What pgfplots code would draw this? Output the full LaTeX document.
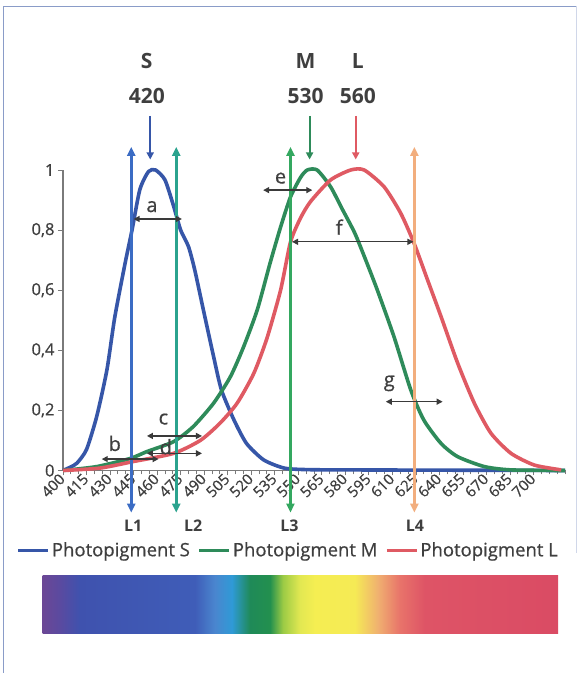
\documentclass[border=0pt]{standalone}
\usepackage{pgfplots}
\usepackage{pgfplotstable}
\usepackage{fontspec}
\setmainfont{Open Sans}
\newfontfamily\med{Open Sans}[FakeBold=0.6]
\usetikzlibrary{arrows.meta}
\pgfplotsset{compat=1.18}
\definecolor{txt}{HTML}{3F3F3F}
\definecolor{axgray}{HTML}{7A7A7A}
\definecolor{Sblue}{HTML}{3656A8}
\definecolor{Mgreen}{HTML}{2E8B5A}
\definecolor{Lred}{HTML}{DF5A63}
\definecolor{Lone}{HTML}{3B6CC4}
\definecolor{Ltwo}{HTML}{2BA38E}
\definecolor{Lthree}{HTML}{34A860}
\definecolor{Lfour}{HTML}{F2AE7E}
\definecolor{harrow}{HTML}{3A3A3A}
\definecolor{framec}{HTML}{8A9CC8}

\pgfplotstableread{
x y
400 0
405 0.012
409 0.025
415 0.07
421.5 0.18
428 0.335
433 0.51
439.6 0.69
444 0.80
449 0.935
454.5 0.995
459 1.0
465 0.967
470.5 0.88
475 0.80
480 0.745
484 0.667
489.5 0.534
496 0.379
501 0.268
509 0.168
517 0.09
528 0.035
541 0.008
555 0.003
580 0.002
720 0
}\Sdata
\pgfplotstableread{
x y
400 0
421.5 0.013
442.8 0.04
453.5 0.063
470.5 0.096
483 0.146
496 0.224
506.7 0.312
515 0.41
523.8 0.534
532 0.69
538.7 0.81
545 0.91
551.4 0.975
555.7 1.0
562 1.0
570.6 0.944
578 0.87
586 0.79
593 0.70
600.4 0.60
611 0.445
621.7 0.268
630 0.168
641 0.09
651.6 0.046
668.6 0.013
685.6 0.002
720 0
}\Mdata
\pgfplotstableread{
x y
400 0
423.6 0.008
445 0.03
470.5 0.057
487.5 0.10
500 0.157
511 0.224
521.6 0.323
530 0.44
538.7 0.60
545 0.76
551.4 0.84
557.8 0.895
570.6 0.967
583.4 1.0
592 1.0
604.7 0.944
615.3 0.856
623.8 0.756
632.4 0.634
641 0.512
651.6 0.357
662.2 0.224
672.8 0.124
685.6 0.057
700.5 0.018
717.6 0.002
}\Ldata

\begin{document}
\begin{tikzpicture}
\path[use as bounding box,fill=white] (0,0) rectangle (579pt,673pt);
% frame
\draw[framec,line width=0.8pt] (3pt,0pt) -- (3pt,667pt) -- (576pt,667pt);
\draw[framec!40,line width=0.6pt] (576pt,667pt) -- (576pt,120pt);

\begin{axis}[
  at={(63pt,202.5pt)},anchor=south west,
  scale only axis,width=502pt,height=300.5pt,
  xmin=400,xmax=720,ymin=0,ymax=1,
  axis x line=bottom,axis y line=left,
  axis line style={-,draw=axgray,line width=1.1pt},
  xtick={400,415,...,700},
  minor xtick={400,405,...,720},
  ytick={0,0.2,0.4,0.6,0.8,1},
  tick align=outside,
  major tick length=5pt,minor tick length=4pt,
  every tick/.style={draw=axgray,line width=0.9pt},
  /pgf/number format/use comma,
  /pgf/number format/assume math mode=true,
  xticklabel style={rotate=45,anchor=east,font=\med\fontsize{15}{16}\selectfont,text=txt,inner sep=1pt},
  yticklabel style={font=\med\fontsize{16.5}{18}\selectfont,text=txt},
  clip=false,
  legend style={at={(axis description cs:0.449,-0.2646)},anchor=center,
    draw=none,fill=none,legend columns=3,
    font=\med\fontsize{18.5}{22}\selectfont,text=txt,
    /tikz/every even column/.append style={column sep=6pt}},
  legend image code/.code={\draw[#1,line width=3pt] (0pt,0pt) -- (30pt,0pt);},
]
\addplot[Sblue,line width=3.6pt,smooth,tension=0.4,line join=round] table[x=x,y=y] {\Sdata};
\addlegendentry{Photopigment S}
\addplot[Mgreen,line width=3.6pt,smooth,tension=0.4,line join=round] table[x=x,y=y] {\Mdata};
\addlegendentry{Photopigment M}
\addplot[Lred,line width=3.6pt,smooth,tension=0.4,line join=round] table[x=x,y=y] {\Ldata};
\addlegendentry{Photopigment L}

% vertical double arrows L1..L4
\draw[Lone,line width=2.6pt,{Triangle[length=9pt,width=8pt]}-{Triangle[length=9pt,width=8pt]}] (axis cs:443.5,-0.14) -- (axis cs:443.5,1.077);
\draw[Ltwo,line width=2.6pt,{Triangle[length=9pt,width=8pt]}-{Triangle[length=9pt,width=8pt]}] (axis cs:472.2,-0.14) -- (axis cs:472.2,1.077);
\draw[Lthree,line width=2.6pt,{Triangle[length=9pt,width=8pt]}-{Triangle[length=9pt,width=8pt]}] (axis cs:545,-0.14) -- (axis cs:545,1.077);
\draw[Lfour,line width=2.6pt,{Triangle[length=9pt,width=8pt]}-{Triangle[length=9pt,width=8pt]}] (axis cs:624,-0.14) -- (axis cs:624,1.077);

% peak arrows
\draw[Sblue,line width=1.8pt,-{Triangle[length=7pt,width=7pt]}] (axis cs:455.6,1.18) -- (axis cs:455.6,1.035);
\draw[Mgreen,line width=1.8pt,-{Triangle[length=7pt,width=7pt]}] (axis cs:557.2,1.18) -- (axis cs:557.2,1.035);
\draw[Lred,line width=1.8pt,-{Triangle[length=7pt,width=7pt]}] (axis cs:586.6,1.18) -- (axis cs:586.6,1.035);

% peak labels
\begin{scope}[every node/.style={text=txt,font=\fontsize{21}{24}\selectfont\bfseries}]
\node at (axis cs:453.4,1.363) {S};
\node at (axis cs:453.4,1.246) {420};
\node at (axis cs:554.6,1.363) {M};
\node at (axis cs:554.6,1.246) {530};
\node at (axis cs:587.9,1.363) {L};
\node at (axis cs:587.9,1.246) {560};
\end{scope}

% L labels
\begin{scope}[every node/.style={text=txt,font=\fontsize{16}{18}\selectfont\bfseries}]
\node at (axis cs:444.7,-0.185) {L1};
\node at (axis cs:483,-0.185) {L2};
\node at (axis cs:544.4,-0.185) {L3};
\node at (axis cs:624.3,-0.185) {L4};
\end{scope}

% horizontal double arrows a..g
\begin{scope}[harrow,line width=1.3pt,{Triangle[length=6pt,width=6pt]}-{Triangle[length=6pt,width=6pt]}]
\draw (axis cs:445,0.837) -- (axis cs:475.8,0.837);
\draw (axis cs:424.7,0.038) -- (axis cs:460.9,0.038);
\draw (axis cs:453.5,0.115) -- (axis cs:488.6,0.115);
\draw (axis cs:453.5,0.057) -- (axis cs:488.6,0.057);
\draw (axis cs:527.6,0.933) -- (axis cs:558.9,0.933);
\draw (axis cs:546,0.761) -- (axis cs:623.4,0.761);
\draw (axis cs:605.8,0.229) -- (axis cs:642,0.229);
\end{scope}
\begin{scope}[every node/.style={text=txt,font=\med\fontsize{20}{22}\selectfont}]
\node at (axis cs:456.7,0.878) {a};
\node at (axis cs:433,0.09) {b};
\node at (axis cs:464,0.171) {c};
\node at (axis cs:465.6,0.079) {d};
\node at (axis cs:538.7,0.973) {e};
\node at (axis cs:576,0.81) {f};
\node at (axis cs:608,0.29) {g};
\end{scope}
\end{axis}

% spectrum bar
\def\barb{39pt}\def\bart{97pt}
\shade[left color={rgb,255:red,107;green,71;blue,149},right color={rgb,255:red,90;green,74;blue,160}] (42.5pt,\barb) rectangle (60pt,\bart);
\shade[left color={rgb,255:red,90;green,74;blue,160},right color={rgb,255:red,63;green,82;blue,174}] (60pt,\barb) rectangle (80pt,\bart);
\shade[left color={rgb,255:red,63;green,82;blue,174},right color={rgb,255:red,63;green,93;blue,184}] (80pt,\barb) rectangle (195pt,\bart);
\shade[left color={rgb,255:red,63;green,93;blue,184},right color={rgb,255:red,74;green,134;blue,207}] (195pt,\barb) rectangle (215pt,\bart);
\shade[left color={rgb,255:red,74;green,134;blue,207},right color={rgb,255:red,47;green,154;blue,214}] (215pt,\barb) rectangle (232pt,\bart);
\shade[left color={rgb,255:red,47;green,154;blue,214},right color={rgb,255:red,31;green,138;blue,88}] (232pt,\barb) rectangle (250pt,\bart);
\shade[left color={rgb,255:red,31;green,138;blue,88},right color={rgb,255:red,35;green,144;blue,78}] (250pt,\barb) rectangle (270pt,\bart);
\shade[left color={rgb,255:red,35;green,144;blue,78},right color={rgb,255:red,156;green,203;blue,69}] (270pt,\barb) rectangle (283pt,\bart);
\shade[left color={rgb,255:red,156;green,203;blue,69},right color={rgb,255:red,226;green,232;blue,82}] (283pt,\barb) rectangle (300pt,\bart);
\shade[left color={rgb,255:red,226;green,232;blue,82},right color={rgb,255:red,245;green,238;blue,82}] (300pt,\barb) rectangle (315pt,\bart);
\shade[left color={rgb,255:red,245;green,238;blue,82},right color={rgb,255:red,245;green,234;blue,85}] (315pt,\barb) rectangle (355pt,\bart);
\shade[left color={rgb,255:red,245;green,234;blue,85},right color={rgb,255:red,240;green,176;blue,112}] (355pt,\barb) rectangle (378pt,\bart);
\shade[left color={rgb,255:red,240;green,176;blue,112},right color={rgb,255:red,232;green,115;blue,106}] (378pt,\barb) rectangle (400pt,\bart);
\shade[left color={rgb,255:red,232;green,115;blue,106},right color={rgb,255:red,222;green,84;blue,102}] (400pt,\barb) rectangle (425pt,\bart);
\shade[left color={rgb,255:red,222;green,84;blue,102},right color={rgb,255:red,218;green,75;blue,100}] (425pt,\barb) rectangle (558pt,\bart);
\end{tikzpicture}
\end{document}
